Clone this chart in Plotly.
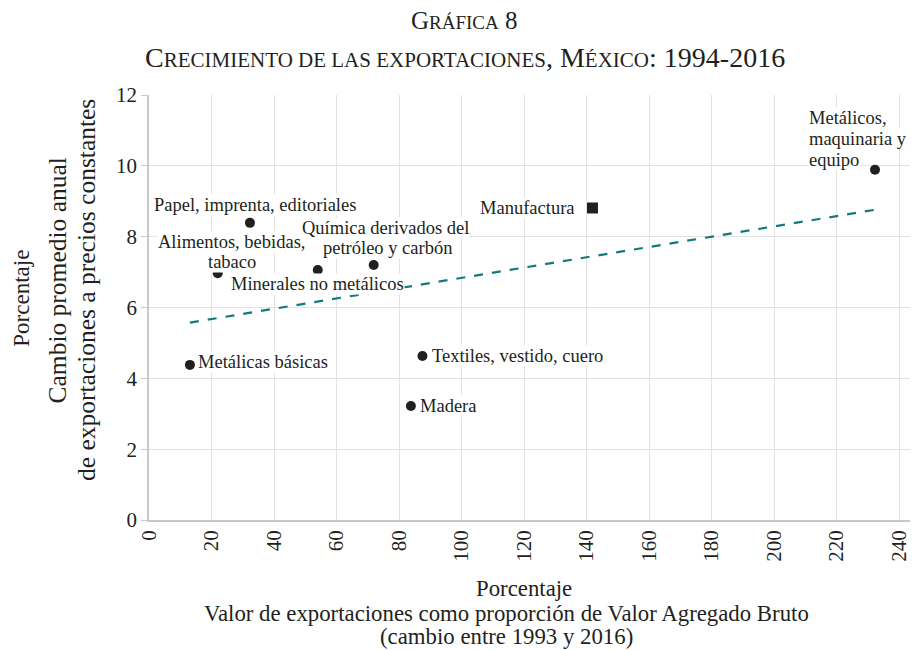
import numpy as np
import plotly.graph_objects as go

# ---- data ----
sectores = ["Metálicas básicas", "Alimentos, bebidas,<br>tabaco", "Papel, imprenta, editoriales",
            "Minerales no metálicos", "Química derivados del<br>petróleo y carbón", "Madera",
            "Textiles, vestido, cuero", "Metálicos,<br>maquinaria y<br>equipo"]
valor_exp = [13.1, 22.0, 32.3, 54.0, 71.9, 83.8, 87.5, 232.3]
crec_exp = [4.38, 6.97, 8.39, 7.06, 7.2, 3.22, 4.63, 9.89]

manuf_name = "Manufactura"
manuf_x = [141.9]
manuf_y = [8.81]

x_ticks = [0, 20, 40, 60, 80, 100, 120, 140, 160, 180, 200, 220, 240]
y_ticks = [0, 2, 4, 6, 8, 10, 12]

# label placement: xanchor and per-line pixel offsets (dx, dy down) from the point
label_style = {
    "Metálicas básicas": ("left", [(7, -3)]),
    "Alimentos, bebidas,<br>tabaco": ("center", [(14, -31), (14, -11)]),
    "Papel, imprenta, editoriales": ("center", [(5, -18)]),
    "Minerales no metálicos": ("center", [(0, 14)]),
    "Química derivados del<br>petróleo y carbón": ("center", [(12, -37), (14, -17)]),
    "Madera": ("left", [(8, 0)]),
    "Textiles, vestido, cuero": ("left", [(9, 0)]),
    "Metálicos,<br>maquinaria y<br>equipo": ("left", [(-67, -52), (-67, -31), (-67, -10)]),
}

FONT = "Liberation Serif"
INK = "#231f20"
LBL = 18.5

# trend line (OLS over sectors)
slope, icpt = np.polyfit(valor_exp, crec_exp, 1)
tx = np.array([min(valor_exp), max(valor_exp)])
ty = slope * tx + icpt

fig = go.Figure()
fig.add_trace(go.Scatter(x=tx, y=ty, mode="lines",
                         line=dict(color="#137a7a", width=2.2, dash="dash"),
                         hoverinfo="skip", showlegend=False))
fig.add_trace(go.Scatter(x=valor_exp, y=crec_exp, mode="markers",
                         marker=dict(color=INK, size=10), showlegend=False))
fig.add_trace(go.Scatter(x=manuf_x, y=manuf_y, mode="markers",
                         marker=dict(color=INK, size=11, symbol="square"), showlegend=False))

for name, x, y in zip(sectores, valor_exp, crec_exp):
    xa, offs = label_style[name]
    for line, (dx, dy) in zip(name.split("<br>"), offs):
        fig.add_annotation(x=x, y=y, text=line, showarrow=False, xshift=dx, yshift=-dy,
                           xanchor=xa, yanchor="middle",
                           font=dict(family=FONT, size=LBL, color=INK), bgcolor="white",
                           borderpad=0)
fig.add_annotation(x=manuf_x[0], y=manuf_y[0], text=manuf_name, showarrow=False,
                   xshift=-16, xanchor="right", yanchor="middle",
                   font=dict(family=FONT, size=LBL, color=INK), bgcolor="white", borderpad=0)

# titles (small caps emulation)
def sc(big, small, sz):
    return f'{big}<span style="font-size:{sz}px">{small}</span>'

title1 = sc("G", "RÁFICA", 19) + " 8"
title2 = sc("C", "RECIMIENTO DE LAS EXPORTACIONES", 21) + ", " + sc("M", "ÉXICO", 21) + ": 1994-2016"
fig.add_annotation(xref="paper", yref="paper", x=0.415, y=1.176, text=title1, showarrow=False,
                   xanchor="center", yanchor="middle", font=dict(family=FONT, size=25, color=INK))
fig.add_annotation(xref="paper", yref="paper", x=0.415, y=1.089, text=title2, showarrow=False,
                   xanchor="center", yanchor="middle", font=dict(family=FONT, size=28, color=INK))

# axis titles
TF = 22.8
for txt, xp, yp in [("Porcentaje", 0.493, -0.160),
                    ("Valor de exportaciones como proporción de Valor Agregado Bruto", 0.470, -0.219),
                    ("(cambio entre 1993 y 2016)", 0.470, -0.273)]:
    fig.add_annotation(xref="paper", yref="paper", x=xp, y=yp, text=txt, showarrow=False,
                       xanchor="center", yanchor="middle", font=dict(family=FONT, size=TF, color=INK))
for txt, xp, yp, fs in [("Porcentaje", -0.168, 0.521, 23),
                        ("Cambio promedio anual", -0.1196, 0.5635, 25.5),
                        ("de exportaciones a precios constantes", -0.0828, 0.541, 25.5)]:
    fig.add_annotation(xref="paper", yref="paper", x=xp, y=yp, text=txt, showarrow=False,
                       textangle=-90, xanchor="center", yanchor="middle",
                       font=dict(family=FONT, size=fs, color=INK))

fig.update_layout(
    width=912, height=650,
    margin=dict(l=149, r=2, t=95, b=130),
    paper_bgcolor="white", plot_bgcolor="white",
    font=dict(family=FONT, color=INK),
    xaxis=dict(range=[0, 243.5], tickvals=x_ticks, ticktext=[str(v) for v in x_ticks],
               tickangle=-90, showgrid=True, gridcolor="#e2e2e2", gridwidth=1,
               showline=True, linecolor="#c8c8c8", linewidth=1.5, zeroline=False,
               ticks="", automargin=False,
               tickfont=dict(family=FONT, size=21, color=INK)),
    yaxis=dict(range=[0, 12], tickvals=y_ticks, showgrid=True, gridcolor="#e2e2e2", gridwidth=1,
               showline=True, linecolor="#c8c8c8", linewidth=1.5, zeroline=False,
               ticks="outside", ticklen=6, tickcolor="#c8c8c8", automargin=False,
               tickfont=dict(family=FONT, size=21, color=INK)),
)

fig.write_html("out.html", config={"displayModeBar": False},
               post_script="document.body.style.margin='0px';")
